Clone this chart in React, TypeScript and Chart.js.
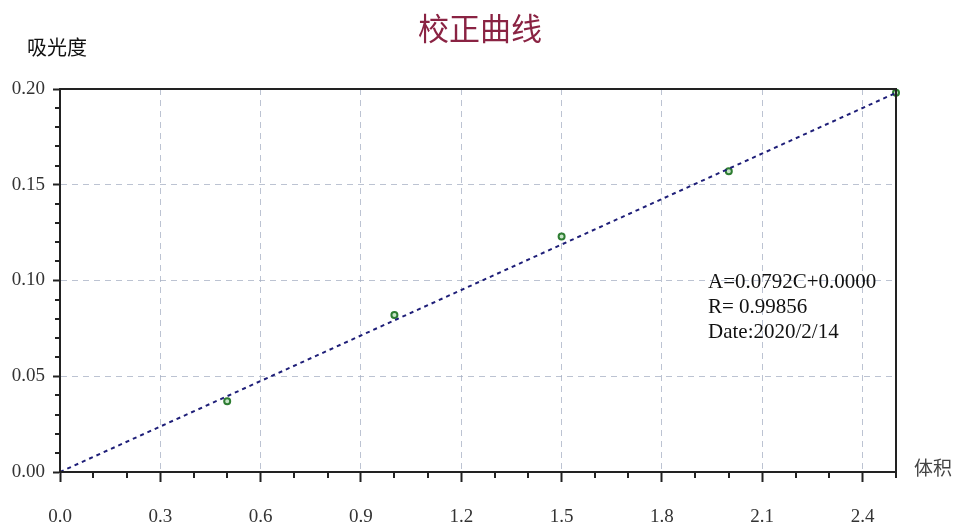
import React, { useEffect, useRef } from "react";
import { Chart, registerables } from "chart.js";

Chart.register(...registerables);

const title = "校正曲线";
const yAxisTitle = "吸光度";
const xAxisTitle = "体积";
const sampleVolume = [0.5, 1.0, 1.5, 2.0, 2.5];
const sampleAbsorbance = [0.037, 0.082, 0.123, 0.157, 0.198];
const fitVolume = [0, 2.5];
const fitAbsorbance = [0, 0.198];
const xTickValues = [0, 0.3, 0.6, 0.9, 1.2, 1.5, 1.8, 2.1, 2.4];
const yTickValues = [0, 0.05, 0.1, 0.15, 0.2];
const annotationLines = ["A=0.0792C+0.0000", "R= 0.99856", "Date:2020/2/14"];

const decorPlugin = {
  id: "decor",
  afterDraw(chart: any) {
    const { ctx, chartArea, scales } = chart;
    const xs = scales.x;
    const ys = scales.y;
    ctx.save();
    // minor ticks
    ctx.strokeStyle = "#222";
    ctx.lineWidth = 2;
    ctx.beginPath();
    for (let i = 1; i <= 25; i++) {
      if (i % 3 === 0) continue;
      const px = Math.round(xs.getPixelForValue(i / 10));
      ctx.moveTo(px, chartArea.bottom);
      ctx.lineTo(px, chartArea.bottom + 6);
    }
    for (let i = 1; i < 20; i++) {
      if (i % 5 === 0) continue;
      const py = Math.round(ys.getPixelForValue(i / 100));
      ctx.moveTo(chartArea.left, py);
      ctx.lineTo(chartArea.left - 5, py);
    }
    ctx.stroke();
    // frame
    ctx.strokeStyle = "#222";
    ctx.lineWidth = 2;
    ctx.strokeRect(chartArea.left, chartArea.top, chartArea.right - chartArea.left, chartArea.bottom - chartArea.top);
    // title
    ctx.fillStyle = "#8a2343";
    ctx.font = '31px "Noto Sans CJK SC"';
    ctx.textAlign = "center";
    ctx.textBaseline = "middle";
    ctx.fillText(title, 480, 28);
    // axis titles
    ctx.fillStyle = "#111";
    ctx.font = '20px "Noto Sans CJK SC"';
    ctx.textAlign = "left";
    ctx.fillText(yAxisTitle, 27, 47);
    ctx.fillStyle = "#444";
    ctx.font = '19px "Noto Sans CJK SC"';
    ctx.fillText(xAxisTitle, 914, 468);
    // annotation
    ctx.fillStyle = "#111";
    ctx.font = '21px "Liberation Serif"';
    ctx.textAlign = "left";
    annotationLines.forEach((t, i) => {
      ctx.fillText(t, 708, 282 + i * 25);
    });
    ctx.restore();
  },
};

export default function App() {
  const ref = useRef<HTMLCanvasElement>(null);
  useEffect(() => {
    if (!ref.current) return;
    const chart = new Chart(ref.current, {
      type: "scatter",
      data: {
        datasets: [
          {
            type: "line",
            data: fitVolume.map((v, i) => ({ x: v, y: fitAbsorbance[i] })),
            borderColor: "#1e1e78",
            borderWidth: 2,
            borderDash: [4, 4],
            pointRadius: 0,
            fill: false,
            clip: false as any,
          },
          {
            type: "scatter",
            data: sampleVolume.map((v, i) => ({ x: v, y: sampleAbsorbance[i] })),
            borderColor: "#2e7d32",
            backgroundColor: "#c8e6c9",
            borderWidth: 2,
            pointRadius: 3,
            clip: false as any,
          },
        ],
      },
      plugins: [decorPlugin],
      options: {
        animation: false,
        responsive: false,
        devicePixelRatio: 1,
        layout: { padding: { left: 0, top: 89, right: 66, bottom: 0 } },
        plugins: { legend: { display: false }, tooltip: { enabled: false }, title: { display: false } },
        scales: {
          x: {
            type: "linear",
            min: 0,
            max: 2.5,
            afterFit: (s: any) => {
              s.height = 58;
            },
            afterBuildTicks: (s: any) => {
              s.ticks = xTickValues.map((v) => ({ value: v }));
            },
            ticks: {
              callback: (v: any) => Number(v).toFixed(1),
              color: "#333",
              font: { family: "Liberation Serif", size: 19 },
              padding: 24,
              maxRotation: 0,
              autoSkip: false,
            },
            grid: {
              color: "rgba(165,175,195,0.75)",
              lineWidth: 1,
              tickLength: 10,
              tickColor: "#222",
              tickWidth: 2,
            },
            border: { display: true, color: "#222", width: 2, dash: [6, 5] },
          },
          y: {
            type: "linear",
            min: 0,
            max: 0.2,
            afterFit: (s: any) => {
              s.width = 60;
            },
            afterBuildTicks: (s: any) => {
              s.ticks = yTickValues.map((v) => ({ value: v }));
            },
            ticks: {
              callback: (v: any) => Number(v).toFixed(2),
              color: "#333",
              font: { family: "Liberation Serif", size: 19 },
              padding: 8,
              autoSkip: false,
            },
            grid: {
              color: "rgba(165,175,195,0.75)",
              lineWidth: 1,
              tickLength: 7,
              tickColor: "#222",
              tickWidth: 2,
            },
            border: { display: true, color: "#222", width: 2, dash: [6, 5] },
          },
        },
      } as any,
    });
    return () => chart.destroy();
  }, []);
  return (
    <div style={{ position: "fixed", left: 0, top: 0, width: 962, height: 530, background: "#fff" }}>
      <canvas ref={ref} width={962} height={530} />
    </div>
  );
}
